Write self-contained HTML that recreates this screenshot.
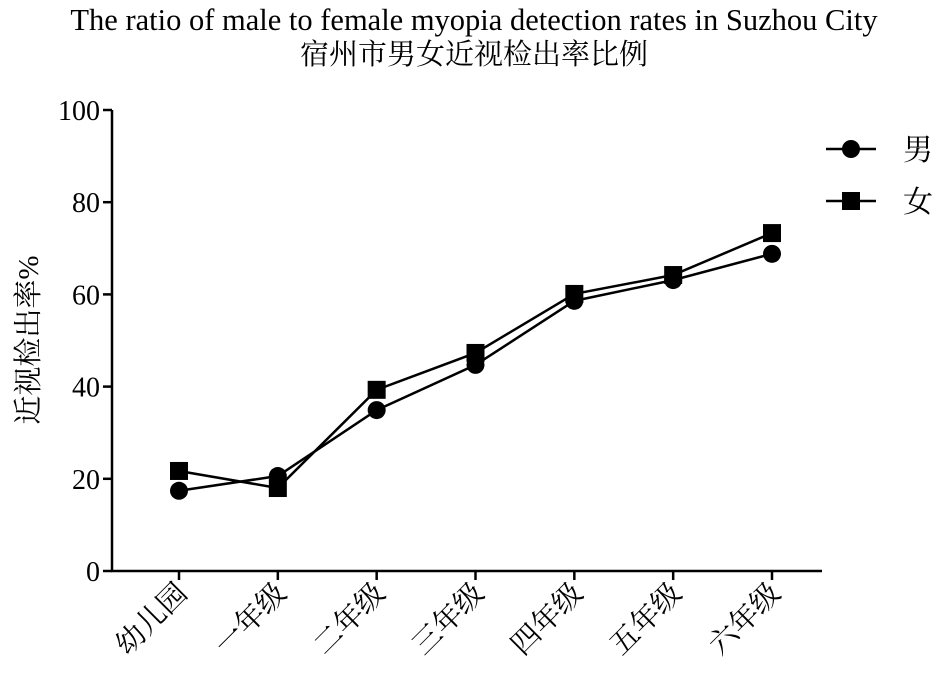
<!DOCTYPE html>
<html><head><meta charset="utf-8"><style>
html,body{margin:0;padding:0;background:#fff}
svg text{font-family:"Liberation Serif","Noto Serif CJK SC","Noto Sans CJK SC",serif;fill:#000}
</style></head><body>
<svg id="chart" width="939" height="691" viewBox="0 0 939 691" xmlns="http://www.w3.org/2000/svg">
<text x="474" y="30" text-anchor="middle" font-size="30.5">The ratio of male to female myopia detection rates in Suzhou City</text>
<text x="474" y="64" text-anchor="middle" font-size="29">宿州市男女近视检出率比例</text>
<text transform="translate(38,340) rotate(-90)" text-anchor="middle" font-size="29">近视检出率%</text>
<g id="axes"></g><g id="series"></g>
<g>
<g>
<line x1="826" y1="149" x2="876" y2="149" stroke="#000" stroke-width="2.5"/><circle cx="851" cy="149" r="9"/>
<text x="903" y="160" font-size="30">男</text></g>
<g>
<line x1="826" y1="201" x2="876" y2="201" stroke="#000" stroke-width="2.5"/><rect x="842" y="192" width="18" height="18"/>
<text x="903" y="212" font-size="30">女</text></g>
</g>
</svg>
<script>
const categories=["幼儿园","一年级","二年级","三年级","四年级","五年级","六年级"];
const maleValues=[17.4,20.6,34.9,44.7,58.6,63.1,68.8];
const femaleValues=[21.7,18.0,39.3,47.3,60.1,64.2,73.3];
const yTicks=[0,20,40,60,80,100];
const NS="http://www.w3.org/2000/svg";
const x0=112,x1=822,y0=571,y1=110;
const xs=i=>179+i*(772-179)/(categories.length-1);
const ys=v=>y0-(v/100)*(y0-y1);
function mk(t,a,p){const e=document.createElementNS(NS,t);for(const k in a)e.setAttribute(k,a[k]);p.appendChild(e);return e;}
const ax=document.getElementById('axes');
const ya=mk('line',{x1:x0,y1:y1,x2:x0,y2:y0+1,stroke:'#000','stroke-width':2.5},ax);


const xa=mk('line',{x1:x0-1,y1:y0,x2:x1,y2:y0,stroke:'#000','stroke-width':2.5},ax);


yTicks.forEach(v=>{
 mk('line',{x1:x0-9,y1:ys(v),x2:x0,y2:ys(v),stroke:'#000','stroke-width':2.5},ax);
 const t=mk('text',{x:x0-12,y:ys(v)+10,'text-anchor':'end','font-size':28},ax);t.textContent=v;
 
 
});
categories.forEach((c,i)=>{
 mk('line',{x1:xs(i),y1:y0,x2:xs(i),y2:y0+9,stroke:'#000','stroke-width':2.5},ax);
 const t=mk('text',{transform:`translate(${xs(i)+10},${y0+24}) rotate(-45)`,'text-anchor':'end','font-size':29},ax);t.textContent=c;
 
 
});
const sg=document.getElementById('series');
function line(vals,name){
 const p=mk('polyline',{points:vals.map((v,i)=>xs(i)+','+ys(v)).join(' '),fill:'none',stroke:'#000','stroke-width':2.5},sg);
 
 
}
line(femaleValues,'female');line(maleValues,'male');
maleValues.forEach((v,i)=>{const c=mk('circle',{cx:xs(i),cy:ys(v),r:9},sg);
 
 });
femaleValues.forEach((v,i)=>{const r=mk('rect',{x:xs(i)-9,y:ys(v)-9,width:18,height:18},sg);
 
 });
</script>
</body></html>
